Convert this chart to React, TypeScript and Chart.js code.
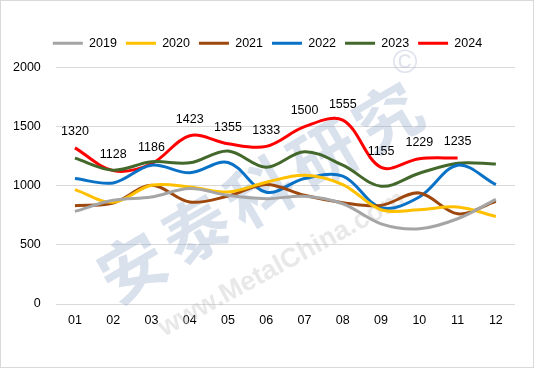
import React, { useEffect, useRef } from "react";
import { Chart, registerables } from "chart.js";

Chart.register(...registerables);

const months = ["01", "02", "03", "04", "05", "06", "07", "08", "09", "10", "11", "12"];
const years = ["2019", "2020", "2021", "2022", "2023", "2024"];
const colors = ["#A5A5A5", "#FFC000", "#9E480E", "#0A72C6", "#43682B", "#FF0000"];

const v2019 = [783, 877, 905, 976, 919, 891, 911, 848, 678, 636, 721, 885];
const v2020 = [967, 860, 1004, 990, 947, 1030, 1089, 1010, 797, 797, 820, 740];
const v2021 = [831, 854, 1004, 862, 913, 1010, 919, 857, 834, 939, 763, 868];
const v2022 = [1061, 1024, 1174, 1109, 1197, 945, 1061, 1081, 814, 905, 1174, 1010];
const v2023 = [1234, 1132, 1203, 1194, 1294, 1157, 1288, 1174, 996, 1106, 1191, 1183];
const v2024 = [1320, 1128, 1186, 1423, 1355, 1333, 1500, 1555, 1155, 1229, 1235];

const yTicks = [0, 500, 1000, 1500, 2000];

const FONT = "'Liberation Sans', Arial, sans-serif";

const bgPlugin = {
  id: "bgBorder",
  beforeInit(chart: any) {
    const legend = chart.legend;
    if (legend) {
      const fit = legend.fit;
      legend.fit = function () {
        fit.call(this);
        this.height += 8;
      };
    }
  },
  afterLayout(chart: any) {
    const legend = chart.legend;
    if (legend) {
      legend.left += 11;
      legend.right += 11;
    }
  },
  beforeDraw(chart: any) {
    const { ctx, width, height } = chart;
    ctx.save();
    ctx.fillStyle = "#ffffff";
    ctx.fillRect(0, 0, width, height);
    ctx.strokeStyle = "#D9D9D9";
    ctx.lineWidth = 1;
    ctx.strokeRect(0.5, 0.5, width - 1, height - 1);
    ctx.restore();
  },
};

const watermarkPlugin = {
  id: "watermark",
  beforeDatasetsDraw(chart: any) {
    const { ctx } = chart;
    ctx.save();
    ctx.translate(263, 190);
    ctx.rotate(-0.53);
    ctx.fillStyle = "rgba(140,165,200,0.33)";
    ctx.font = `bold 66px 'Noto Sans CJK SC', sans-serif`;
    (ctx as any).letterSpacing = "8px";
    ctx.textAlign = "center";
    ctx.textBaseline = "middle";
    ctx.fillText("安泰科研究", 0, 0);
    ctx.restore();

    ctx.save();
    ctx.translate(405, 64);
    ctx.fillStyle = "rgba(160,175,200,0.35)";
    ctx.font = `34px ${FONT}`;
    ctx.textAlign = "center";
    ctx.textBaseline = "middle";
    ctx.fillText("©", 0, 0);
    ctx.restore();

    ctx.save();
    ctx.translate(282, 264);
    ctx.rotate(-0.5);
    ctx.fillStyle = "rgba(185,185,185,0.33)";
    ctx.font = `bold 27px ${FONT}`;
    ctx.textAlign = "center";
    ctx.textBaseline = "middle";
    ctx.fillText("www.MetalChina.com", 0, 0);
    ctx.restore();
  },
};

const labelPlugin = {
  id: "dataLabels2024",
  afterDatasetsDraw(chart: any) {
    const { ctx } = chart;
    const meta = chart.getDatasetMeta(5);
    const data = chart.data.datasets[5].data;
    ctx.save();
    ctx.fillStyle = "#000000";
    ctx.font = `12.5px ${FONT}`;
    ctx.textAlign = "center";
    ctx.textBaseline = "middle";
    meta.data.forEach((pt: any, i: number) => {
      ctx.fillText(String(data[i]), pt.x, pt.y - 16);
    });
    ctx.restore();
  },
};

export default function App() {
  const ref = useRef<HTMLCanvasElement>(null);
  useEffect(() => {
    document.body.style.margin = "0";
    const series = [v2019, v2020, v2021, v2022, v2023, v2024];
    const chart = new Chart(ref.current as HTMLCanvasElement, {
      type: "line",
      data: {
        labels: months,
        datasets: series.map((d, i) => ({
          label: years[i],
          data: d,
          borderColor: colors[i],
          backgroundColor: colors[i],
          borderWidth: 3,
          pointRadius: 0,
          tension: 0.35,
          fill: false,
        })),
      },
      options: {
        animation: false,
        responsive: false,
        maintainAspectRatio: false,
        layout: { padding: { top: 28, left: -2, right: 19, bottom: 31 } },
        plugins: {
          legend: {
            position: "top",
            labels: {
              boxWidth: 30,
              boxHeight: 3,
              padding: 9,
              color: "#000",
              font: { size: 12.5, family: FONT },
              generateLabels: (c: any) =>
                Chart.defaults.plugins.legend.labels
                  .generateLabels(c)
                  .map((l: any) => ({ ...l, lineWidth: 0 })),
            },
          },
          tooltip: { enabled: false },
        },
        scales: {
          x: {
            offset: true,
            grid: { display: false, drawTicks: false },
            border: { display: false },
            ticks: { color: "#000", font: { size: 12.5, family: FONT }, padding: 9 },
          },
          y: {
            min: 0,
            max: 2000,
            afterBuildTicks: (axis: any) => {
              axis.ticks = yTicks.map((v) => ({ value: v }));
            },
            grid: { color: "#D9D9D9", drawTicks: false },
            border: { display: false },
            ticks: {
              color: "#000",
              font: { size: 12.5, family: FONT },
              padding: 15,
              callback: (v: any) => String(v),
            },
          },
        },
      },
      plugins: [bgPlugin, watermarkPlugin, labelPlugin],
    } as any);
    return () => chart.destroy();
  }, []);
  return <canvas ref={ref} width={534} height={368} style={{ display: "block" }} />;
}
